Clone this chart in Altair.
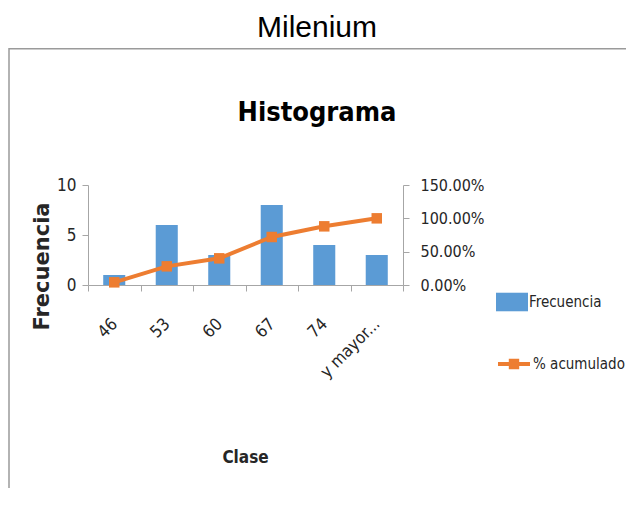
import altair as alt
import pandas as pd

# ---- data ----
clases = ["46", "53", "60", "67", "74", "y mayor..."]
frecuencia = [1, 6, 3, 8, 4, 3]
acumulado = [0.04, 0.28, 0.40, 0.72, 0.88, 1.00]
left_ticks = [0, 5, 10]
right_ticks = [0, 0.5, 1.0, 1.5]

df = pd.DataFrame({"Clase": clases, "Frecuencia": frecuencia, "Acumulado": acumulado})

W, H = 618, 440
TOP = 40
NARROW = "Liberation Sans Narrow, DejaVu Sans Condensed, Arial Narrow, sans-serif"
TXT = "#262626"
AX = "#A6A6A6"
BLUE = "#5B9BD5"
ORANGE = "#ED7D31"
XR = [80, 395]
YR = [237, 137]

xscale = alt.Scale(range=XR, paddingInner=0, paddingOuter=0)
xaxis = alt.Axis(
    orient="bottom", offset=-(H - YR[0]), tickBand="extent", grid=False,
    domainColor=AX, tickColor=AX, tickSize=6,
    labelAngle=315, labelAlign="right", labelBaseline="middle", labelPadding=30,
    labelFont=NARROW, labelFontSize=17, labelColor=TXT, labelOverlap=False,
    title="Clase", titleFont=NARROW, titleFontSize=17, titleFontWeight="bold", titleColor=TXT,
    titleX=237, titleY=172, titleAlign="center", titleBaseline="middle",
)
x_enc = alt.X("Clase:N", sort=clases, scale=xscale, axis=xaxis)

yleft = alt.Axis(
    orient="left", offset=-XR[0], values=left_ticks, grid=False,
    domainColor=AX, tickColor=AX, tickSize=6, labelPadding=6,
    labelFont=NARROW, labelFontSize=17, labelColor=TXT,
    title="Frecuencia", titleFont="DejaVu Sans", titleFontSize=21, titleFontWeight="bold",
    titleColor=TXT, titleAngle=270, titleX=-46, titleY=218, titleAlign="center",
    titleBaseline="middle",
)
yright = alt.Axis(
    orient="right", offset=-(W - XR[1]), values=right_ticks, format=".2%", grid=False,
    domainColor=AX, tickColor=AX, tickSize=6, labelPadding=11,
    labelFont=NARROW, labelFontSize=16, labelColor=TXT, title=None,
)

border_df = pd.DataFrame({"borde": ["marco"]})
top_rule = alt.Chart(border_df).mark_rule(color="#9A9A9A", strokeWidth=1.5).encode(
    x=alt.value(1), x2=alt.value(W), y=alt.value(0.75)
)
left_rule = alt.Chart(border_df).mark_rule(color="#9A9A9A", strokeWidth=1.5).encode(
    x=alt.value(1), y=alt.value(0), y2=alt.value(H)
)

bars = alt.Chart(df).transform_calculate(s1='"Frecuencia"').mark_bar(
    width=alt.RelativeBandSize(0.42)
).encode(
    x=x_enc,
    y=alt.Y("Frecuencia:Q", scale=alt.Scale(domain=[0, 10], range=YR), axis=yleft),
    color=alt.Color(
        "s1:N",
        scale=alt.Scale(domain=["Frecuencia"], range=[BLUE]),
        legend=alt.Legend(
            title=None, orient="none", legendX=488, legendY=238, padding=0,
            symbolType="M-1,-0.58H1V0.58H-1Z", symbolSize=1024, symbolStrokeWidth=0,
            labelFont=NARROW, labelFontSize=15, labelColor=TXT, labelOffset=1, labelLimit=200,
        ),
    ),
)

ypct = alt.Y("Acumulado:Q", scale=alt.Scale(domain=[0, 1.5], range=YR), axis=yright)

line = alt.Chart(df).transform_calculate(s2='"% acumulado"').mark_line(strokeWidth=4).encode(
    x=x_enc,
    y=ypct,
    stroke=alt.Stroke(
        "s2:N",
        scale=alt.Scale(domain=["% acumulado"], range=[ORANGE]),
        legend=alt.Legend(
            title=None, orient="none", legendX=488, legendY=298, padding=0,
            symbolType="M-1,0H1M-0.2,-0.2H0.2V0.2H-0.2Z", symbolSize=1024,
            symbolStrokeWidth=4, symbolFillColor=ORANGE,
            labelFont=NARROW, labelFontSize=15, labelColor=TXT, labelOffset=1, labelLimit=200,
        ),
    ),
)
pts = alt.Chart(df).mark_square(size=110, filled=True, color=ORANGE, opacity=1).encode(
    x=x_enc, y=ypct
)

chart = alt.layer(
    top_rule, left_rule, bars, alt.layer(line, pts)
).resolve_scale(y="independent").properties(
    width=W, height=H,
    autosize=alt.AutoSizeParams(type="none"),
    padding={"left": 0, "top": TOP, "right": 0, "bottom": 0},
    title=alt.Title(
        "Milenium", subtitle="Histograma", anchor="middle",
        font="Liberation Sans, Arial, sans-serif", fontSize=30, fontWeight="normal", color="black",
        subtitleFont=NARROW, subtitleFontSize=27, subtitleFontWeight="bold", subtitleColor="black",
        subtitlePadding=57, offset=-79,
    ),
).configure_view(stroke=None)

chart.save("out.html", embed_options={"renderer": "svg", "actions": False})
